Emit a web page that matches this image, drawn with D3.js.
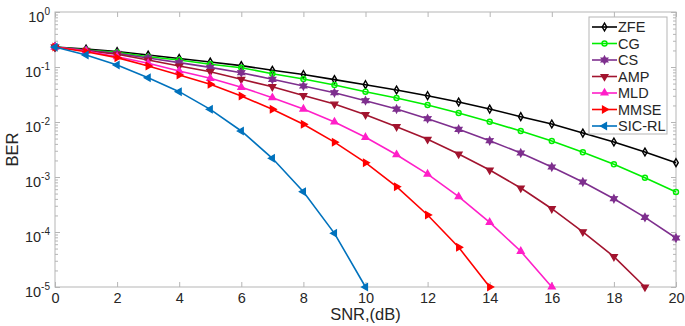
<!DOCTYPE html>
<html>
<head>
<meta charset="utf-8">
<script src="https://cdn.jsdelivr.net/npm/d3@7"></script>
<style>
  body { margin: 0; background: #fff; }
  svg { font-family: "Liberation Sans", Arial, sans-serif; }
</style>
</head>
<body>
<div id="chart"></div>
<script>
// SNR points (dB)
const snr = d3.range(0, 21);
const xTicks = [0, 2, 4, 6, 8, 10, 12, 14, 16, 18, 20];
const yTicks = [1e-5, 1e-4, 1e-3, 1e-2, 1e-1, 1];

// BER curves
const zfe = [0.231, 0.212, 0.191, 0.165, 0.143, 0.123, 0.106, 0.087, 0.073, 0.059, 0.0477,
    0.0382, 0.0301, 0.0231, 0.0172, 0.0125, 0.0092, 0.0063, 0.00433, 0.00285, 0.00182];
const cg = [0.231, 0.204, 0.185, 0.154, 0.134, 0.112, 0.0971, 0.0755, 0.0605, 0.0471, 0.0356,
    0.0273, 0.0204, 0.0146, 0.0101, 0.00686, 0.00452, 0.00281, 0.0017, 0.00097, 0.000533];
const cs = [0.231, 0.201, 0.177, 0.146, 0.12, 0.0986, 0.0788, 0.0597, 0.0451, 0.0341, 0.0244,
    0.0172, 0.0115, 0.00737, 0.00457, 0.00273, 0.00152, 0.00081, 0.000403, 0.000185, 0.0000778];
const amp = [0.231, 0.198, 0.170, 0.134, 0.104, 0.0822, 0.0597, 0.0438, 0.0303, 0.0212, 0.0136,
    0.00822, 0.00484, 0.00262, 0.00134, 0.00063, 0.000265, 0.000101, 0.0000356, 0.00001];
const mld = [0.231, 0.195, 0.154, 0.117, 0.0846, 0.0623, 0.0428, 0.0277, 0.0172, 0.01, 0.00527,
    0.00254, 0.00113, 0.000438, 0.00015, 0.0000446, 0.00001];
const mmse = [0.231, 0.19, 0.148, 0.104, 0.0716, 0.0484, 0.0297, 0.017, 0.00908, 0.0043, 0.00182,
    0.000667, 0.000204, 0.0000527, 0.00001];
const sicrl = [0.231, 0.165, 0.109, 0.0638, 0.0356, 0.017, 0.00686, 0.00219, 0.00054, 0.0000946, 0.00001];

// hexagram marker like MATLAB 'h'
const hexagram = {
    draw(ctx, size) {
        const r = Math.sqrt(size) * 0.75, ri = r * 0.55;
        for (let i = 0; i < 12; i++) {
            const a = i * Math.PI / 6 - Math.PI / 2, rr = i % 2 ? ri : r;
            const px = rr * Math.cos(a), py = rr * Math.sin(a);
            i ? ctx.lineTo(px, py) : ctx.moveTo(px, py);
        }
        ctx.closePath();
    }
};

const series = [
    {name: "ZFE", values: zfe, color: "#000000", symbol: d3.symbolDiamond, rot: 0, fill: false, size: 18},
    {name: "CG", values: cg, color: "#00ee00", symbol: d3.symbolCircle, rot: 0, fill: false, size: 20},
    {name: "CS", values: cs, color: "#7e2f8e", symbol: hexagram, rot: 0, fill: true, size: 24},
    {name: "AMP", values: amp, color: "#a2142f", symbol: d3.symbolTriangle, rot: 180, fill: true, size: 19},
    {name: "MLD", values: mld, color: "#ff1fc8", symbol: d3.symbolTriangle, rot: 0, fill: true, size: 19},
    {name: "MMSE", values: mmse, color: "#ff0000", symbol: d3.symbolTriangle, rot: 90, fill: true, size: 19},
    {name: "SIC-RL", values: sicrl, color: "#0072bd", symbol: d3.symbolTriangle, rot: -90, fill: true, size: 19}
];

const W = 685, H = 326;
const margin = {top: 12, right: 9, bottom: 39, left: 55};
const svg = d3.select("#chart").append("svg")
    .attr("width", W).attr("height", H);

const x = d3.scaleLinear().domain([0, 20]).range([margin.left, W - margin.right]);
const y = d3.scaleLog().domain([1e-5, 1]).range([H - margin.bottom, margin.top]);

const axisColor = "#b5b5b5", textColor = "#262626";

// minor log ticks
const minor = [];
for (let e = -5; e < 0; e++) for (let m = 2; m <= 9; m++) minor.push(m * Math.pow(10, e));

function styleAxis(g) {
    g.select(".domain").remove();
    g.selectAll(".tick line").attr("stroke", axisColor);
    g.selectAll(".tick text").attr("fill", textColor).attr("font-size", 14.5);
}

// left axis
const gl = svg.append("g").attr("transform", `translate(${margin.left},0)`)
    .call(d3.axisLeft(y).tickValues(yTicks).tickSize(-5).tickPadding(5))
    .call(styleAxis);
gl.selectAll(".tick text").text(null).attr("dy", "0.62em").each(function (d) {
    const t = d3.select(this);
    t.append("tspan").text("10");
    t.append("tspan").attr("dy", -7).attr("font-size", 10).text(Math.round(Math.log10(d)));
});
svg.append("g").attr("transform", `translate(${margin.left},0)`)
    .call(d3.axisLeft(y).tickValues(minor).tickSize(-3).tickFormat(""))
    .call(styleAxis);

// right axis ticks
svg.append("g").attr("transform", `translate(${W - margin.right},0)`)
    .call(d3.axisRight(y).tickValues(yTicks).tickSize(-5).tickFormat(""))
    .call(styleAxis);
svg.append("g").attr("transform", `translate(${W - margin.right},0)`)
    .call(d3.axisRight(y).tickValues(minor).tickSize(-3).tickFormat(""))
    .call(styleAxis);

// bottom / top axes
svg.append("g").attr("transform", `translate(0,${H - margin.bottom})`)
    .call(d3.axisBottom(x).tickValues(xTicks).tickSize(-5).tickPadding(6))
    .call(styleAxis);
svg.append("g").attr("transform", `translate(0,${margin.top})`)
    .call(d3.axisTop(x).tickValues(xTicks).tickSize(-5).tickFormat(""))
    .call(styleAxis);

// box
svg.append("rect")
    .attr("x", margin.left).attr("y", margin.top)
    .attr("width", W - margin.left - margin.right)
    .attr("height", H - margin.top - margin.bottom)
    .attr("fill", "none").attr("stroke", axisColor).attr("stroke-width", 1);

// axis labels
svg.append("text")
    .attr("x", (x(0) + x(20)) / 2).attr("y", 320)
    .attr("text-anchor", "middle").attr("font-size", 16.5).attr("fill", textColor)
    .text("SNR,(dB)");
svg.append("text")
    .attr("transform", `translate(18,${(y(1) + y(1e-5)) / 2}) rotate(-90)`)
    .attr("text-anchor", "middle").attr("font-size", 16.5).attr("fill", textColor)
    .text("BER");

// curves
const line = d3.line().x((d, i) => x(snr[i])).y(d => y(d));

series.forEach(s => {
    const g = svg.append("g");
    g.append("path")
        .datum(s.values)
        .attr("d", line)
        .attr("fill", "none")
        .attr("stroke", s.color)
        .attr("stroke-width", 1.6);
    g.selectAll("path.mk")
        .data(s.values)
        .enter()
        .append("path")
        .attr("class", "mk")
        .attr("d", d3.symbol(s.symbol, s.size))
        .attr("transform", (d, i) => `translate(${x(snr[i])},${y(d)}) rotate(${s.rot})`)
        .attr("fill", s.fill ? s.color : "none")
        .attr("stroke", s.color)
        .attr("stroke-width", 1.4);
});

// legend
const lg = svg.append("g").attr("transform", "translate(589,17)");
lg.append("rect")
    .attr("width", 78).attr("height", 117)
    .attr("fill", "#fff").attr("stroke", axisColor);
series.forEach((s, i) => {
    const yy = 10 + i * 16.5;
    lg.append("line")
        .attr("x1", 3).attr("x2", 28).attr("y1", yy).attr("y2", yy)
        .attr("stroke", s.color).attr("stroke-width", 1.6);
    lg.append("path")
        .attr("d", d3.symbol(s.symbol, s.size))
        .attr("transform", `translate(15.5,${yy}) rotate(${s.rot})`)
        .attr("fill", s.fill ? s.color : "none")
        .attr("stroke", s.color)
        .attr("stroke-width", 1.4);
    lg.append("text")
        .attr("x", 29).attr("y", yy).attr("dy", "0.36em")
        .attr("font-size", 14.5).attr("fill", textColor)
        .text(s.name);
});
</script>
</body>
</html>
